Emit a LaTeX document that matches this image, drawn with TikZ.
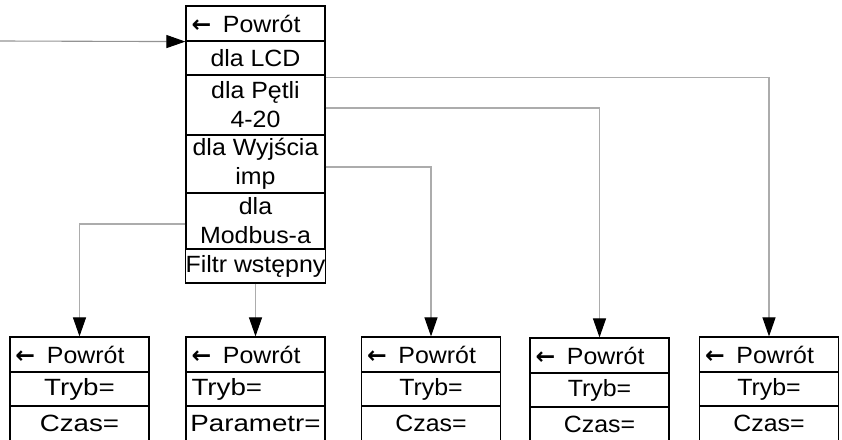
\documentclass[tikz,border=0pt]{standalone}
\usepackage{fontspec}
\setmainfont[FakeStretch=1.06]{Liberation Sans}
\newfontfamily\arrowbold{DejaVu Sans Bold}
\newfontfamily\widefont[FakeStretch=1.18]{Liberation Sans}
\newcommand\wstecz{{\arrowbold ←}\enspace}
\usetikzlibrary{arrows.meta}

\begin{document}
\begin{tikzpicture}[x=1pt, y=-1pt, >={Triangle[length=19pt,width=13pt,color=black]},
  cell/.style={draw, line width=1.2pt, inner sep=0pt, minimum width=139pt, align=center,
    font=\fontsize{23.5}{29}\selectfont},
  back/.style={cell, minimum height=35pt, text width=128pt, align=left},
  wire/.style={draw=gray!65, line width=1.1pt}]
\clip (0,0) rectangle (842,439);

% menu glowne
\node[back](M1) at (255.5,23.5){\wstecz Powrót};
\node[cell, minimum height=34pt](M2) at (255.5,58){dla LCD};
\node[cell, minimum height=60pt](M3) at (255.5,105){dla Pętli\\4-20};
\node[cell, minimum height=58pt](M4) at (255.5,164){dla Wyjścia\\imp};
\node[cell, minimum height=56pt](M5) at (255.5,221){dla\\Modbus-a};
\node[cell, minimum height=34pt](M6) at (255.5,266){Filtr wstępny};

% podmenu
\node[back](A1) at (79.5,354.5){\wstecz Powrót};
\node[cell, minimum height=34pt](A2) at (79.5,389){\widefont Tryb=};
\node[cell, minimum height=35pt](A3) at (79.5,423.5){\widefont Czas=};

\node[back](B1) at (255.5,354.5){\wstecz Powrót};
\node[cell, minimum height=34pt, text width=128pt, align=left](B2) at (255.5,389){\widefont Tryb=};
\node[cell, minimum height=35pt](B3) at (255.5,423.5){\widefont Parametr=};

\node[back](C1) at (431,354.5){\wstecz Powrót};
\node[cell, minimum height=34pt](C2) at (431,389){Tryb=};
\node[cell, minimum height=35pt](C3) at (431,423.5){Czas=};

\node[back](D1) at (599.5,355.5){\wstecz Powrót};
\node[cell, minimum height=34pt](D2) at (599.5,390){Tryb=};
\node[cell, minimum height=35pt](D3) at (599.5,424.5){Czas=};

\node[back](E1) at (769,354.5){\wstecz Powrót};
\node[cell, minimum height=34pt](E2) at (769,389){Tryb=};
\node[cell, minimum height=35pt](E3) at (769,423.5){Czas=};

\coordinate(IN) at (0,41);

\draw[->, draw=gray!85, line width=1.1pt](IN) -- (M1.south west);
\draw[wire, ->]([yshift=-3pt]M3.north east) -| (E1.north);
\draw[wire, ->]([yshift=-3pt]M3.east) -| (D1.north);
\draw[wire, ->]([yshift=-3pt]M4.east) -| (C1.north);
\draw[wire, ->]([yshift=-3pt]M5.west) -| (A1.north);
\draw[wire, ->](M6.south) -- (B1.north);
\end{tikzpicture}
\end{document}
